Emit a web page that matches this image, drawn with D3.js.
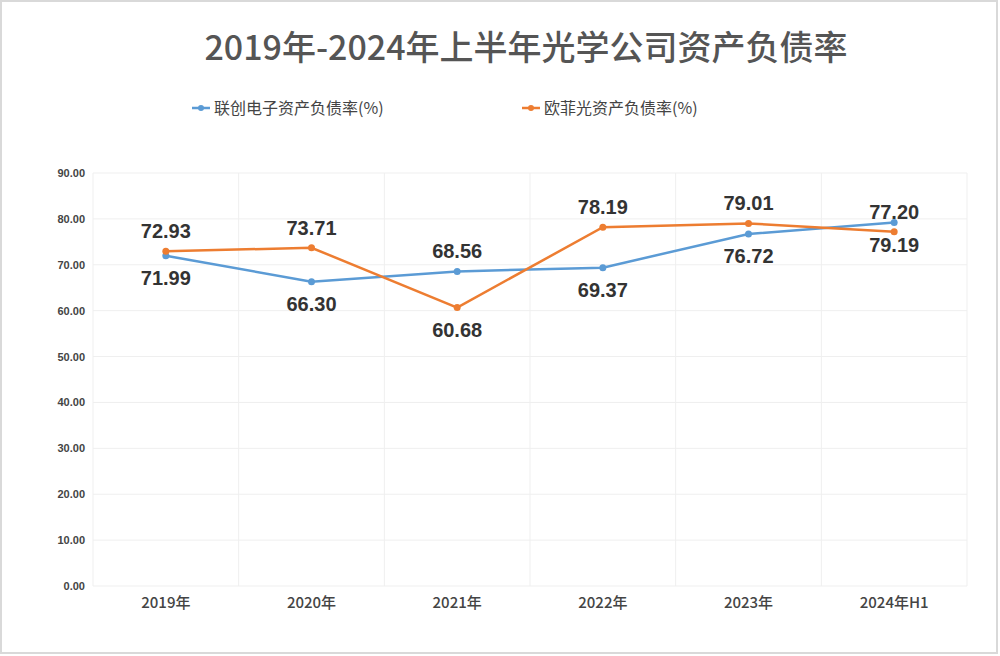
<!DOCTYPE html>
<html><head><meta charset="utf-8">
<script src="https://cdn.jsdelivr.net/npm/d3@7/dist/d3.min.js"></script>
<style>
body{margin:0;background:#fff;}
svg{display:block;font-family:"Liberation Sans","Noto Sans CJK SC",sans-serif;}
</style></head><body>
<svg id="c" width="1000" height="656"></svg>
<script>
const categories = ["2019年","2020年","2021年","2022年","2023年","2024年H1"];
const seriesNames = ["联创电子资产负债率(%)","欧菲光资产负债率(%)"];
const lianchuang = [71.99, 66.30, 68.56, 69.37, 76.72, 79.19];
const oufeiguang = [72.93, 73.71, 60.68, 78.19, 79.01, 77.20];
const lianchuangLabelPos = ["below","below","above","below","below","below"];
const oufeiguangLabelPos = ["above","above","below","above","above","above"];
const yTicks = [0,10,20,30,40,50,60,70,80,90];
const colors = ["#5b9bd5","#ed7d31"];

const svg = d3.select("#c");
svg.append("rect").attr("x",1).attr("y",1).attr("width",996).attr("height",652)
  .attr("fill","#fff").attr("stroke","#d9d9d9").attr("stroke-width",2);

const m = {l:93, r:967, t:173, b:586};
const x = d3.scaleBand().domain(categories).range([m.l,m.r]);
const y = d3.scaleLinear().domain([0,90]).range([m.b,m.t]);

// title
svg.append("text").attr("x",526).attr("y",60).attr("text-anchor","middle")
  .attr("font-size",34).attr("font-weight",500).attr("fill","#555")
  .attr("font-family","'Noto Sans CJK SC',sans-serif")
  .text("2019年-2024年上半年光学公司资产负债率");

// legend
const legendX = [192, 522];
seriesNames.forEach((n,i)=>{
  const g = svg.append("g").attr("transform",`translate(${legendX[i]},108)`);
  g.append("line").attr("x1",0).attr("x2",18).attr("y1",0).attr("y2",0)
    .attr("stroke",colors[i]).attr("stroke-width",2.5);
  g.append("circle").attr("cx",9).attr("cy",0).attr("r",3).attr("fill",colors[i]);
  g.append("text").attr("x",22).attr("y",6).attr("font-size",16).attr("fill","#444")
    .attr("font-family","'Noto Sans CJK SC',sans-serif").text(n);
});

// grid
const grid = svg.append("g");
grid.selectAll("line.h").data(yTicks).join("line")
  .attr("x1",m.l).attr("x2",m.r).attr("y1",d=>y(d)).attr("y2",d=>y(d))
  .attr("stroke","#efefef").attr("stroke-width",1);
const vlines = categories.map(c=>x(c)).concat([m.r]);
grid.selectAll("line.v").data(vlines).join("line")
  .attr("x1",d=>d).attr("x2",d=>d).attr("y1",m.t).attr("y2",m.b)
  .attr("stroke","#efefef").attr("stroke-width",1);

// y axis
const yAxis = d3.axisLeft(y).tickValues(yTicks).tickFormat(d3.format(".2f")).tickSize(0).tickPadding(8);
const ya = svg.append("g").attr("transform",`translate(${m.l},0)`).call(yAxis);
ya.select(".domain").remove();
ya.selectAll("text").attr("font-size",11).attr("font-weight","bold").attr("fill","#444");

// x axis
const xAxis = d3.axisBottom(x).tickSize(0).tickPadding(11);
const xa = svg.append("g").attr("transform",`translate(0,${m.b})`).call(xAxis);
xa.select(".domain").remove();
xa.selectAll("text").attr("font-size",15).attr("font-weight",500).attr("fill","#444")
  .attr("font-family","'Noto Sans CJK SC',sans-serif");

// lines
const cx = c => x(c) + x.bandwidth()/2;
const data = [lianchuang, oufeiguang];
const pos = [lianchuangLabelPos, oufeiguangLabelPos];
const line = d3.line().x((d,i)=>cx(categories[i])).y(d=>y(d));
data.forEach((s,k)=>{
  svg.append("path").datum(s).attr("d",line).attr("fill","none")
    .attr("stroke",colors[k]).attr("stroke-width",2.5);
  svg.append("g").selectAll("circle").data(s).join("circle")
    .attr("cx",(d,i)=>cx(categories[i])).attr("cy",d=>y(d)).attr("r",3.5).attr("fill",colors[k]);
});
data.forEach((s,k)=>{
  svg.append("g").selectAll("text").data(s).join("text")
    .attr("x",(d,i)=>cx(categories[i]))
    .attr("y",(d,i)=>y(d) + (pos[k][i]==="above" ? -13 : 29))
    .attr("text-anchor","middle").attr("font-size",20).attr("font-weight","bold")
    .attr("fill","#333").text(d=>d.toFixed(2));
});
</script>
</body></html>
